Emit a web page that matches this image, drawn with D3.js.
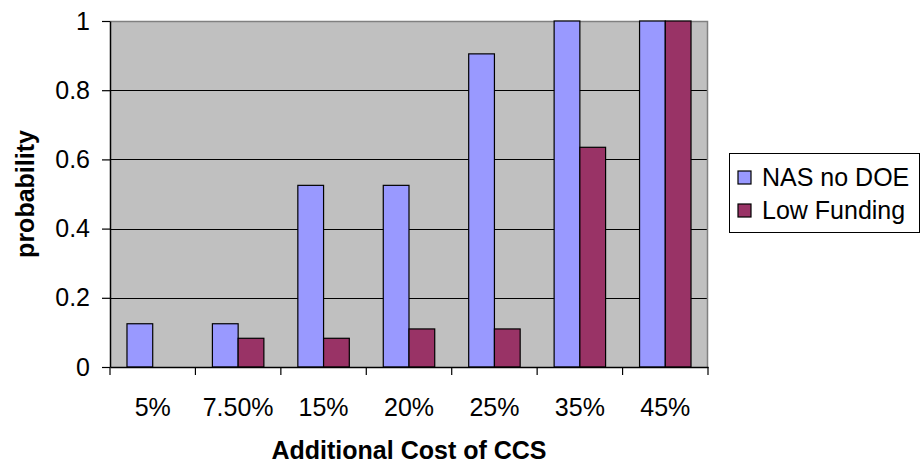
<!DOCTYPE html>
<html>
<head>
<meta charset="utf-8">
<script src="https://cdn.jsdelivr.net/npm/d3@7"></script>
<style>
  html, body { margin: 0; padding: 0; background: #ffffff; }
  svg { display: block; font-family: "Liberation Sans", Arial, sans-serif; }
</style>
</head>
<body>
<svg id="chart" width="920" height="465"></svg>
<script>
// Probability of CCS deployment by additional cost, two funding scenarios
const categories = ["5%", "7.50%", "15%", "20%", "25%", "35%", "45%"];
const seriesNames = ["NAS no DOE", "Low Funding"];
const nasNoDoe = [0.125, 0.125, 0.525, 0.525, 0.905, 1, 1];
const lowFunding = [0, 0.083, 0.083, 0.11, 0.11, 0.635, 1];
const yTicks = [0, 0.2, 0.4, 0.6, 0.8, 1];
const colors = ["#9999FF", "#993366"];

const svg = d3.select("#chart");
const plot = { left: 110, right: 708, top: 21, bottom: 367 };
const fontSize = 25;

const x0 = d3.scaleBand().domain(categories).range([plot.left, plot.right]).paddingInner(0).paddingOuter(0);
const x1 = d3.scaleBand().domain(seriesNames).range([0, x0.bandwidth()]).paddingInner(0).paddingOuter(0.66);
const y = d3.scaleLinear().domain([0, 1]).range([plot.bottom, plot.top]);

// plot background
svg.append("rect")
  .attr("x", plot.left).attr("y", plot.top)
  .attr("width", plot.right - plot.left).attr("height", plot.bottom - plot.top)
  .attr("fill", "#C0C0C0");

// horizontal gridlines
svg.append("g").selectAll("line").data(yTicks.filter(t => t > 0 && t < 1)).join("line")
  .attr("x1", plot.left).attr("x2", plot.right)
  .attr("y1", d => Math.round(y(d)) + 0.5).attr("y2", d => Math.round(y(d)) + 0.5)
  .attr("stroke", "#000").attr("stroke-width", 1.2);

// top and right frame of the plot area
svg.append("path")
  .attr("d", `M${plot.left},${plot.top + 0.5}H${plot.right - 0.5}V${plot.bottom}`)
  .attr("fill", "none").attr("stroke", "#808080").attr("stroke-width", 1.5);

// bars
const data = categories.map((c, i) => ({ cat: c, vals: [nasNoDoe[i], lowFunding[i]] }));
const groups = svg.append("g").selectAll("g").data(data).join("g")
  .attr("transform", d => `translate(${x0(d.cat)},0)`);
groups.selectAll("rect")
  .data(d => d.vals.map((v, k) => ({ name: seriesNames[k], v, k })).filter(e => e.v > 0))
  .join("rect")
  .attr("x", d => x1(d.name))
  .attr("width", x1.bandwidth())
  .attr("y", d => y(d.v))
  .attr("height", d => y(0) - y(d.v))
  .attr("fill", d => colors[d.k])
  .attr("stroke", "#000").attr("stroke-width", 1.2);

// y axis
const yAxis = d3.axisLeft(y).tickValues(yTicks).tickFormat(d3.format("")).tickSizeInner(8).tickSizeOuter(0).tickPadding(12);
const gy = svg.append("g").attr("transform", `translate(${plot.left},0)`).call(yAxis);
gy.select(".domain").attr("stroke", "#000").attr("stroke-width", 1.5);
gy.selectAll(".tick line").attr("stroke", "#000").attr("stroke-width", 1.2);
gy.selectAll(".tick text").attr("font-size", fontSize).attr("fill", "#000").attr("font-family", "Liberation Sans, Arial, sans-serif");

// x axis: ticks on category boundaries
const xAxis = d3.axisBottom(x0).tickSize(0).tickPadding(31);
const gx = svg.append("g").attr("transform", `translate(0,${plot.bottom})`).call(xAxis);
gx.select(".domain").attr("stroke", "#000").attr("stroke-width", 1.5);
gx.selectAll(".tick text").attr("font-size", fontSize).attr("fill", "#000").attr("font-family", "Liberation Sans, Arial, sans-serif");
gx.append("g").selectAll("line").data(categories.concat([null])).join("line")
  .attr("x1", (d, i) => i < categories.length ? x0(d) : plot.right)
  .attr("x2", (d, i) => i < categories.length ? x0(d) : plot.right)
  .attr("y1", 0).attr("y2", 8)
  .attr("stroke", "#000").attr("stroke-width", 1.2);

// axis titles
svg.append("text")
  .attr("x", 409).attr("y", 459)
  .attr("text-anchor", "middle")
  .attr("font-size", fontSize).attr("font-weight", "bold")
  .text("Additional Cost of CCS");
svg.append("text")
  .attr("transform", "translate(34,194) rotate(-90)")
  .attr("text-anchor", "middle")
  .attr("font-size", fontSize).attr("font-weight", "bold")
  .text("probability");

// legend
const lg = svg.append("g").attr("transform", "translate(729,153)");
lg.append("rect").attr("x", 0.5).attr("y", 0.5).attr("width", 190).attr("height", 79)
  .attr("fill", "#fff").attr("stroke", "#000").attr("stroke-width", 1);
seriesNames.forEach((name, k) => {
  const row = lg.append("g").attr("transform", `translate(0,${24 + k * 33})`);
  row.append("rect").attr("x", 9).attr("y", -6).attr("width", 13).attr("height", 13)
    .attr("fill", colors[k]).attr("stroke", "#000").attr("stroke-width", 1.2);
  row.append("text").attr("x", 33).attr("y", 9)
    .attr("font-size", fontSize).text(name);
});
</script>
</body>
</html>
